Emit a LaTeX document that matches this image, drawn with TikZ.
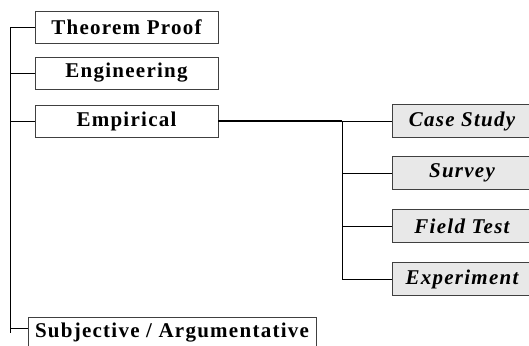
\documentclass[tikz,border=0pt]{standalone}
\usepackage{fontspec}
\setmainfont{Liberation Serif}
\newfontfamily\boxfont[LetterSpace=6]{Liberation Serif}
\begin{document}
\begin{tikzpicture}[x=1pt,y=1pt,
  catbox/.style={draw=black!75, line width=0.8pt, fill=white, rectangle,
    inner sep=0pt, minimum width=183pt, minimum height=32pt,
    font=\boxfont\fontsize{21}{24}\selectfont\bfseries},
  subbox/.style={catbox, fill=black!9, minimum width=140pt, minimum height=33pt,
    font=\boxfont\fontsize{21}{24}\selectfont\bfseries\itshape},
  link/.style={draw=black, line width=0.9pt},
  mainlink/.style={draw=black, line width=1.6pt}]
\useasboundingbox (0,0) rectangle (529,345);
\clip (0,0) rectangle (529,345);

% top-level categories
\node[catbox] (thm) at (126.5,318) {Theorem Proof};
\node[catbox] (eng) at (126.5,272) {Engineering};
\node[catbox] (emp) at (126.5,224) {Empirical};
\node[catbox, minimum width=288pt] (subj) at (172,12) {Subjective / Argumentative};

% empirical methods
\node[subbox] (case) at (462,224) {Case Study};
\node[subbox] (surv) at (462,172) {Survey};
\node[subbox] (field) at (462,119) {Field Test};
\node[subbox] (expt) at (462,66) {Experiment};

% left trunk
\coordinate (trunk) at (10,318);
\coordinate (split) at (342,224);
\draw[link] (thm.west) -- (trunk) -- (trunk |- subj.west) ++(0,5) -- ([yshift=5pt]subj.west);
\draw[link] (eng.west) -- (eng.west -| trunk);
\draw[link] (emp.west) -- (emp.west -| trunk);

% empirical branch
\draw[mainlink] (emp.east) -- (split);
\draw[link] (split) -- (case.west);
\draw[link] (split) -- (split |- expt.west) -- (expt.west);
\draw[link] (surv.west) -- (surv.west -| split);
\draw[link] (field.west) -- (field.west -| split);
\end{tikzpicture}
\end{document}
